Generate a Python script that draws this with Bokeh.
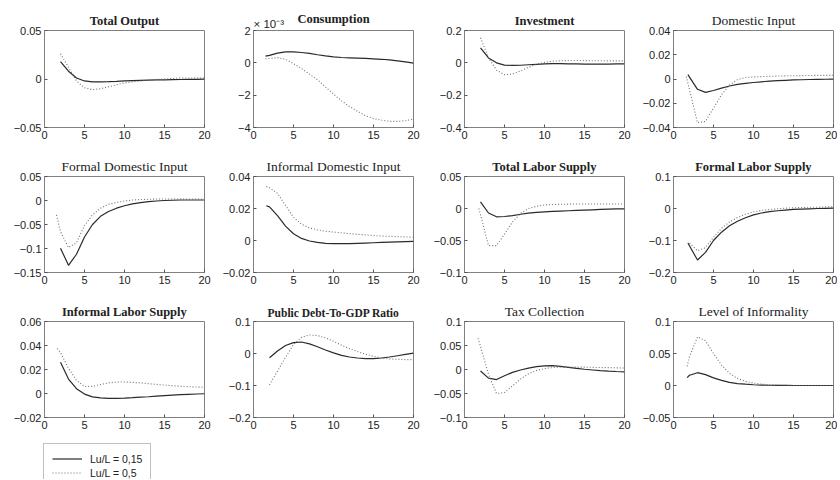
from bokeh.plotting import figure
from bokeh.layouts import column, row
from bokeh.models import (FixedTicker, Range1d, Title, Legend, LegendItem,
                          CustomJSTickFormatter)
from bokeh.embed import file_html
from bokeh.resources import INLINE

# ---------------- data ----------------
t = list(range(2, 21))               # periods 2..20
t_early16 = [1.6] + t                # series that start slightly before period 2
t_early15 = [1.5] + t
t_early17 = [1.7] + t
t_skip18 = [1.8] + list(range(3, 21))
t_skip16 = [1.6] + list(range(3, 21))

x_ticks = [0, 5, 10, 15, 20]

# Total Output
output_solid = [0.018, 0.008, 0.001, -0.002, -0.003, -0.003, -0.0028, -0.0025, -0.002, -0.0017,
                -0.0014, -0.0012, -0.001, -0.0008, -0.0006, -0.0005, -0.0004, -0.0003, -0.0002]
output_dotted = [0.026, 0.012, -0.002, -0.009, -0.011, -0.010, -0.008, -0.006, -0.004, -0.003,
                 -0.002, -0.001, -0.0005, 0.0, 0.0005, 0.001, 0.001, 0.0012, 0.0012]
# Consumption (x 10^-3)
cons_solid = [0.41, 0.46, 0.60, 0.68, 0.68, 0.64, 0.58, 0.50, 0.43, 0.37,
              0.33, 0.31, 0.29, 0.27, 0.25, 0.22, 0.18, 0.12, 0.06, -0.02]
cons_dotted = [0.25, 0.27, 0.32, 0.22, -0.05, -0.35, -0.70, -1.05, -1.50, -1.93,
               -2.35, -2.70, -3.00, -3.27, -3.45, -3.54, -3.62, -3.62, -3.58, -3.48]
# Investment
inv_solid = [0.093, 0.03, 0.0, -0.014, -0.016, -0.015, -0.012, -0.009, -0.006, -0.005,
             -0.005, -0.006, -0.007, -0.008, -0.008, -0.008, -0.008, -0.007, -0.006]
inv_dotted = [0.155, 0.03, -0.045, -0.073, -0.07, -0.05, -0.028, -0.01, 0.003, 0.01,
              0.013, 0.014, 0.014, 0.014, 0.013, 0.013, 0.012, 0.012, 0.012]
# Domestic Input
dom_solid = [0.0036, -0.0085, -0.011, -0.0095, -0.0075, -0.0058, -0.0045, -0.0036, -0.0029, -0.0023,
             -0.0018, -0.0014, -0.0011, -0.0008, -0.0006, -0.0004, -0.0003, -0.0002, -0.0001]
dom_dotted = [0.002, -0.036, -0.035, -0.024, -0.013, -0.005, -0.0005, 0.0012, 0.0017, 0.002,
              0.0022, 0.0024, 0.0026, 0.0027, 0.0028, 0.0029, 0.003, 0.003, 0.003]
# Formal Domestic Input
fdom_solid = [-0.0995, -0.135, -0.112, -0.076, -0.05, -0.033, -0.023, -0.016, -0.011, -0.007,
              -0.0045, -0.0025, -0.001, 0.0, 0.0005, 0.001, 0.001, 0.001, 0.001]
fdom_dotted = [-0.03, -0.065, -0.098, -0.088, -0.052, -0.03, -0.016, -0.008, -0.004, -0.001,
               0.001, 0.002, 0.0025, 0.003, 0.003, 0.003, 0.003, 0.003, 0.003, 0.003]
# Informal Domestic Input
idom_solid = [0.0217, 0.021, 0.0155, 0.009, 0.0042, 0.0013, -0.0003, -0.0012, -0.0018, -0.002,
              -0.002, -0.002, -0.0018, -0.0016, -0.0014, -0.0012, -0.001, -0.0008, -0.0007, -0.0006]
idom_dotted = [0.0337, 0.033, 0.0295, 0.022, 0.0145, 0.0102, 0.0078, 0.0066, 0.0058, 0.0053,
               0.0048, 0.0043, 0.0039, 0.0035, 0.0031, 0.0028, 0.0026, 0.0024, 0.0022, 0.002]
# Total Labor Supply
tls_solid = [0.0104, -0.007, -0.013, -0.0125, -0.011, -0.009, -0.0072, -0.006, -0.0052, -0.0046,
             -0.004, -0.0035, -0.003, -0.0025, -0.002, -0.0015, -0.001, -0.0007, -0.0005]
tls_dotted = [0.0, -0.058, -0.058, -0.04, -0.021, -0.008, 0.0, 0.0035, 0.0055, 0.0062,
              0.0066, 0.0068, 0.007, 0.007, 0.007, 0.007, 0.007, 0.007, 0.007]
# Formal Labor Supply
fls_solid = [-0.108, -0.161, -0.137, -0.1, -0.074, -0.054, -0.04, -0.029, -0.02, -0.014,
             -0.01, -0.007, -0.005, -0.003, -0.002, -0.001, 0.0, 0.0005, 0.001]
fls_dotted = [-0.108, -0.132, -0.122, -0.09, -0.062, -0.042, -0.028, -0.018, -0.011, -0.006,
              -0.003, -0.001, 0.001, 0.002, 0.003, 0.004, 0.004, 0.005, 0.005]
# Informal Labor Supply
ils_solid = [0.026, 0.012, 0.004, -0.0005, -0.0028, -0.0037, -0.004, -0.004, -0.0038, -0.0035,
             -0.0031, -0.0027, -0.0022, -0.0018, -0.0014, -0.001, -0.0007, -0.0004, -0.0002]
ils_dotted = [0.0375, 0.034, 0.021, 0.011, 0.0058, 0.006, 0.0075, 0.0088, 0.0095, 0.0096,
              0.0093, 0.0088, 0.0082, 0.0076, 0.007, 0.0065, 0.006, 0.0057, 0.0054, 0.0052]
# Public Debt-To-GDP Ratio
debt_solid = [-0.0135, 0.008, 0.025, 0.034, 0.036, 0.03, 0.021, 0.011, 0.002, -0.006,
              -0.011, -0.014, -0.016, -0.016, -0.014, -0.011, -0.007, -0.003, 0.001]
debt_dotted = [-0.098, -0.055, -0.012, 0.028, 0.05, 0.058, 0.056, 0.049, 0.038, 0.026,
               0.015, 0.006, -0.002, -0.009, -0.014, -0.017, -0.018, -0.019, -0.019]
# Tax Collection
tax_solid = [-0.003, -0.018, -0.021, -0.013, -0.006, -0.001, 0.003, 0.006, 0.0075, 0.008,
             0.0065, 0.0045, 0.0025, 0.0005, -0.001, -0.0025, -0.0035, -0.0042, -0.0048]
tax_dotted = [0.065, 0.048, -0.01, -0.05, -0.048, -0.034, -0.02, -0.009, -0.002, 0.002,
              0.004, 0.005, 0.005, 0.005, 0.005, 0.0045, 0.004, 0.004, 0.0035, 0.003]
# Level of Informality
inf_solid = [0.0124, 0.016, 0.02, 0.017, 0.012, 0.008, 0.005, 0.003, 0.002, 0.0012,
             0.0007, 0.0004, 0.0002, 0.0001, 0.0, 0.0, 0.0, 0.0, 0.0, 0.0]
inf_dotted = [0.03, 0.045, 0.076, 0.07, 0.05, 0.032, 0.019, 0.011, 0.0065, 0.0038,
              0.0022, 0.0012, 0.0006, 0.0003, 0.0001, 0.0, 0.0, 0.0, 0.0, 0.0]

legend_labels = ["Lu/L = 0,15", "Lu/L = 0,5"]

# ---------------- styling ----------------
SOLID_COLOR = "#2a2a2a"
DOT_COLOR = "#707070"
BOX_COLOR = "#808080"
TEXT_COLOR = "#222222"

minus_fmt = CustomJSTickFormatter(code="""
    const a = Math.abs(tick);
    return (tick < 0 ? "\u2212" : "") + String(parseFloat(a.toPrecision(6)));
""")

# column geometry (left border, right border) and row geometry (top border, height)
COLS = [(44, 13), (36, 15), (36, 13), (36, 4)]
ROWS = [(30, 153), (22, 145), (22, 145)]
FRAME_W = 160


def panel(title, yr, yticks, xs, ys, xd, yd, col, rw, bold=True, tsize="12.5px"):
    lb, rb = COLS[col]
    tb, h = ROWS[rw]
    p = figure(width=lb + FRAME_W + rb, height=h, x_range=Range1d(0, 20), y_range=Range1d(*yr),
               output_backend="svg", toolbar_location=None,
               min_border_left=lb, min_border_right=rb,
               min_border_top=tb, min_border_bottom=h - tb - 97)
    p.title.text = title
    p.title.align = "center"
    p.title.text_font = "Liberation Serif"
    p.title.text_font_size = tsize
    p.title.text_font_style = "bold" if bold else "normal"
    p.title.text_color = TEXT_COLOR
    p.title.offset = 0
    p.title.standoff = 6
    p.grid.visible = False
    p.background_fill_color = "white"
    p.border_fill_color = "white"
    p.outline_line_color = BOX_COLOR
    p.outline_line_width = 1
    p.line(xs, ys, line_color=SOLID_COLOR, line_width=1.2)
    p.line(xd, yd, line_color=DOT_COLOR, line_width=1.1, line_dash="1 2")
    p.xaxis.ticker = FixedTicker(ticks=x_ticks)
    p.yaxis.ticker = FixedTicker(ticks=yticks)
    p.yaxis.formatter = minus_fmt
    for ax in (p.xaxis[0], p.yaxis[0]):
        ax.major_tick_in = 3
        ax.major_tick_out = 0
        ax.minor_tick_in = 0
        ax.minor_tick_out = 0
        ax.axis_line_color = BOX_COLOR
        ax.major_tick_line_color = "#555555"
        ax.major_label_text_font = "Liberation Sans"
        ax.major_label_text_font_size = "11px"
        ax.major_label_text_color = TEXT_COLOR
        ax.major_label_standoff = 3
    return p


p1 = panel("Total Output", (-0.05, 0.05), [-0.05, 0, 0.05], t, output_solid, t, output_dotted, 0, 0)
p2 = panel("Consumption", (-4, 2), [-4, -2, 0, 2], t_early15, cons_solid, t_early15, cons_dotted, 1, 0)
# exponent note, on the same line as the title, at the left edge of the box
p2.add_layout(Title(text="\u00d7 10\u207b\u00b3", align="left", offset=0, standoff=2,
                    text_font="Liberation Sans", text_font_size="11.5px",
                    text_font_style="normal", text_color=TEXT_COLOR), "above")
p2.title.standoff = -22
p3 = panel("Investment", (-0.4, 0.2), [-0.4, -0.2, 0, 0.2], t, inv_solid, t, inv_dotted, 2, 0)
p4 = panel("Domestic Input", (-0.04, 0.04), [-0.04, -0.02, 0, 0.02, 0.04],
           t_skip18, dom_solid, t_skip16, dom_dotted, 3, 0, bold=False, tsize="13.5px")

p5 = panel("Formal Domestic Input", (-0.15, 0.05), [-0.15, -0.1, -0.05, 0, 0.05],
           t, fdom_solid, t_early15, fdom_dotted, 0, 1, bold=False, tsize="13.5px")
p6 = panel("Informal Domestic Input", (-0.02, 0.04), [-0.02, 0, 0.02, 0.04],
           t_early16, idom_solid, t_early16, idom_dotted, 1, 1, bold=False, tsize="13.5px")
p7 = panel("Total Labor Supply", (-0.1, 0.05), [-0.1, -0.05, 0, 0.05],
           t, tls_solid, t_skip18, tls_dotted, 2, 1)
p8 = panel("Formal Labor Supply", (-0.2, 0.1), [-0.2, -0.1, 0, 0.1],
           t_skip18, fls_solid, t, fls_dotted, 3, 1)

p9 = panel("Informal Labor Supply", (-0.02, 0.06), [-0.02, 0, 0.02, 0.04, 0.06],
           t, ils_solid, t_early16, ils_dotted, 0, 2)
p10 = panel("Public Debt-To-GDP Ratio", (-0.2, 0.1), [-0.2, -0.1, 0, 0.1],
            t, debt_solid, t, debt_dotted, 1, 2, tsize="11.5px")
p11 = panel("Tax Collection", (-0.1, 0.1), [-0.1, -0.05, 0, 0.05, 0.1],
            t, tax_solid, t_early17, tax_dotted, 2, 2, bold=False, tsize="13.5px")
p12 = panel("Level of Informality", (-0.05, 0.1), [-0.05, 0, 0.05, 0.1],
            t_early17, inf_solid, t_early17, inf_dotted, 3, 2, bold=False, tsize="13.5px")

# legend strip (its sample lines sit outside the visible range; only the legend shows)
lf = figure(width=217, height=36, x_range=Range1d(100, 101), y_range=Range1d(0, 1),
            output_backend="svg", toolbar_location=None, min_border=0,
            x_axis_location=None, y_axis_location=None)
lf.grid.visible = False
lf.outline_line_color = None
r1 = lf.line(t, ils_solid, line_color=SOLID_COLOR, line_width=1.2)
r2 = lf.line(t_early16, ils_dotted, line_color=DOT_COLOR, line_width=1.1, line_dash="1 2")
leg = Legend(items=[LegendItem(label=legend_labels[0], renderers=[r1]),
                    LegendItem(label=legend_labels[1], renderers=[r2])],
             location=(43, -9), orientation="vertical",
             label_text_font="Liberation Sans", label_text_font_size="10.5px",
             label_text_color=TEXT_COLOR,
             glyph_width=30, glyph_height=13, label_height=13, label_standoff=8,
             padding=8, spacing=1, margin=0,
             border_line_color=BOX_COLOR, border_line_width=1,
             background_fill_color="white", background_fill_alpha=1)
lf.add_layout(leg, "center")

layout = column(row(p1, p2, p3, p4), row(p5, p6, p7, p8), row(p9, p10, p11, p12), lf)

open("out.html", "w").write(file_html(layout, INLINE))
